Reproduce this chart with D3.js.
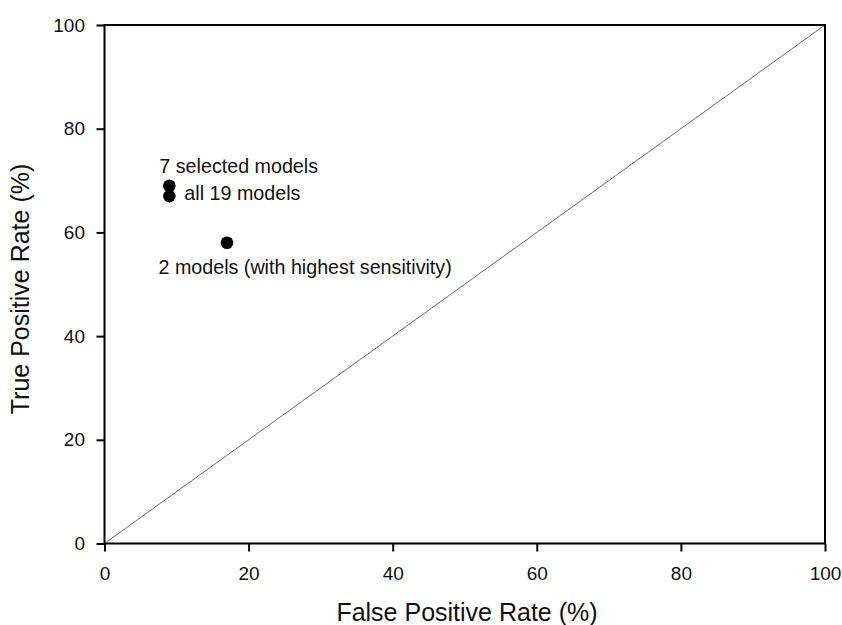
<!DOCTYPE html>
<html><head><meta charset="utf-8">
<script src="https://cdn.jsdelivr.net/npm/d3@7"></script>
<style>body{margin:0;background:#fff}text{font-family:"Liberation Sans",Arial,sans-serif;fill:#111}</style>
</head><body><svg id="c" width="842" height="625"></svg>
<script>
const labels = ["7 selected models", "all 19 models", "2 models (with highest sensitivity)"];
const fpr = [9, 9, 17];
const tpr = [69, 67, 58];
const xTicks = [0, 20, 40, 60, 80, 100];
const yTicks = [0, 20, 40, 60, 80, 100];
const diagonal = [[0, 0], [100, 100]];

const svg = d3.select("#c");
const L = 104.5, R = 825, T = 25, B = 543.5;
const x = d3.scaleLinear().domain([0, 100]).range([L, R]);
const y = d3.scaleLinear().domain([0, 100]).range([B, T]);

// diagonal
svg.append("path").datum(diagonal)
  .attr("d", d3.line().x(d => x(d[0])).y(d => y(d[1])))
  .attr("stroke", "#444").attr("stroke-width", 0.8).attr("fill", "none");

// frame
svg.append("rect").attr("x", L).attr("y", T).attr("width", R - L).attr("height", B - T)
  .attr("fill", "none").attr("stroke", "#000").attr("stroke-width", 2);

const xa = svg.append("g").attr("transform", `translate(0,${B})`)
  .call(d3.axisBottom(x).tickValues(xTicks).tickSize(8).tickPadding(15));
const ya = svg.append("g").attr("transform", `translate(${L},0)`)
  .call(d3.axisLeft(y).tickValues(yTicks).tickSize(8).tickPadding(11.5));
[xa, ya].forEach(a => {
  a.select(".domain").remove();
  a.selectAll("line").attr("stroke", "#000").attr("stroke-width", 2);
  a.selectAll("text").attr("font-size", 19).attr("fill", "#111")
    .attr("font-family", '"Liberation Sans",Arial,sans-serif');
});

// points
svg.selectAll("circle.p").data(fpr).enter().append("circle")
  .attr("cx", (d, i) => x(d)).attr("cy", (d, i) => y(tpr[i])).attr("r", 6.3).attr("fill", "#000");

// labels
const off = [[-10, -12.5], [15, 3.5], [-68.5, 31.5]];
svg.selectAll("text.lab").data(labels).enter().append("text")
  .attr("x", (d, i) => x(fpr[i]) + off[i][0]).attr("y", (d, i) => y(tpr[i]) + off[i][1])
  .attr("font-size", 19.7).text(d => d);

svg.append("text").attr("x", 467).attr("y", 621).attr("text-anchor", "middle")
  .attr("font-size", 25).text("False Positive Rate (%)");
svg.append("text").attr("transform", `translate(29,289) rotate(-90)`)
  .attr("text-anchor", "middle").attr("font-size", 25).text("True Positive Rate (%)");
</script></body></html>
